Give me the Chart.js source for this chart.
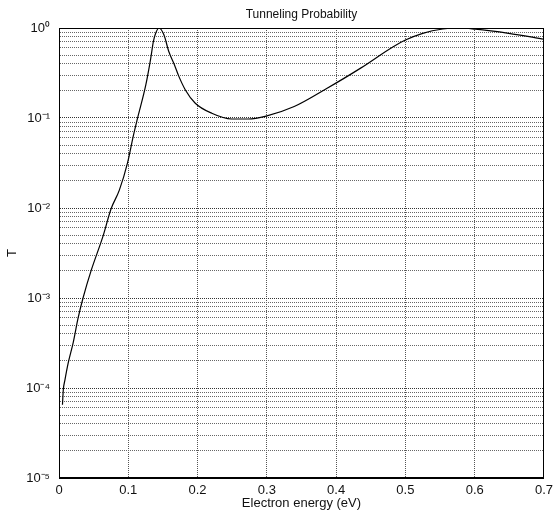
<!DOCTYPE html>
<html>
<head>
<meta charset="utf-8">
<script src="https://cdn.jsdelivr.net/npm/chart.js@4.4.1/dist/chart.umd.min.js"></script>
<style>
  body { margin: 0; background: #fff; }
  canvas { display: block; }
</style>
</head>
<body>
<canvas id="myChart" width="558" height="513"></canvas>
<script>
// values
var energy = [0.005, 0.0062, 0.0086, 0.0133, 0.0205, 0.0276, 0.0347, 0.0467, 0.0633, 0.0752,
    0.0871, 0.099, 0.1076, 0.1133, 0.1253, 0.1324, 0.1362, 0.1395, 0.1443, 0.1514,
    0.1586, 0.1657, 0.173, 0.1824, 0.1967, 0.2205, 0.249, 0.273, 0.299, 0.3395,
    0.387, 0.4348, 0.4824, 0.5, 0.525, 0.554, 0.575, 0.601, 0.649, 0.70];
var transmission = [6.5e-5, 9.5e-5, 1.23e-4, 1.9e-4, 3.2e-4, 6.0e-4, 1.0e-3, 2.05e-3, 4.8e-3, 9.8e-3,
    1.58e-2, 3.2e-2, 6.5e-2, 0.099, 0.233, 0.46, 0.705, 0.873, 1.0, 0.84,
    0.545, 0.405, 0.29, 0.205, 0.146, 0.113, 0.0975, 0.0975, 0.105, 0.134,
    0.214, 0.356, 0.62, 0.735, 0.873, 0.975, 1.0, 0.97, 0.873, 0.75];

var xTicks = [0, 0.1, 0.2, 0.3, 0.4, 0.5, 0.6, 0.7];
var decades = [1e-5, 1e-4, 1e-3, 1e-2, 1e-1, 1];
var decadeLabels = ['10\u207B\u2075', '10\u207B\u2074', '10\u207B\u00B3', '10\u207B\u00B2', '10\u207B\u00B9', '10\u2070'];

Chart.defaults.font.family = '"Liberation Sans", Arial, sans-serif';
Chart.defaults.font.size = 13;
Chart.defaults.color = '#111';

// all log ticks: 1..9 x 10^n
var yTicks = [];
for (var d = 0; d < decades.length - 1; d++) {
    for (var k = 1; k <= 9; k++) {
        yTicks.push(+(k * decades[d]).toPrecision(3));
    }
}
yTicks.push(1);

function decadeIndex(v) {
    return decades.findIndex(function (d) { return Math.abs(v - d) < d * 1e-6; });
}

var boxPlugin = {
    id: 'box',
    afterDraw: function (chart) {
        var a = chart.chartArea;
        var c = chart.ctx;
        c.save();
        c.strokeStyle = '#000';
        c.lineWidth = 1;
        c.strokeRect(Math.round(a.left) + 0.5, Math.round(a.top) + 0.5,
            Math.round(a.right - a.left) - 1, Math.round(a.bottom - a.top) - 1);
        c.restore();
    }
};

var ctx = document.getElementById('myChart');
var myChart = new Chart(ctx, {
    type: 'line',
    data: {
        datasets: [{
            data: energy.map(function (e, i) { return { x: e, y: transmission[i] }; }),
            borderColor: '#000',
            borderWidth: 1.2,
            pointRadius: 0,
            cubicInterpolationMode: 'monotone',
            fill: false
        }]
    },
    plugins: [boxPlugin],
    options: {
        responsive: false,
        animation: false,
        layout: { padding: { left: 0, right: 9, top: 0, bottom: 0 } },
        plugins: {
            legend: { display: false },
            tooltip: { enabled: false },
            title: {
                display: true,
                text: 'Tunneling Probability',
                fullSize: false,
                color: '#111',
                font: { size: 12, weight: 'normal' },
                padding: { top: 7, bottom: 6.6 }
            }
        },
        scales: {
            x: {
                type: 'linear',
                min: 0,
                max: 0.7,
                afterBuildTicks: function (scale) {
                    scale.ticks = xTicks.map(function (v) { return { value: v }; });
                },
                afterFit: function (scale) { scale.height = 35; },
                ticks: {
                    padding: 5,
                    autoSkip: false,
                    maxRotation: 0,
                    callback: function (v) { return v === 0 ? '0' : v.toFixed(1); }
                },
                grid: { color: '#555', drawTicks: false },
                border: { color: '#000', dash: [1, 1] },
                title: {
                    display: true,
                    text: 'Electron energy (eV)',
                    padding: { top: 0, bottom: 2 }
                }
            },
            y: {
                type: 'logarithmic',
                min: 1e-5,
                max: 1,
                afterBuildTicks: function (scale) {
                    scale.ticks = yTicks.map(function (v) { return { value: v }; });
                },
                afterFit: function (scale) { scale.width = 59; },
                ticks: {
                    padding: 9,
                    autoSkip: false,
                    callback: function (v) {
                        var i = decadeIndex(v);
                        return i >= 0 ? decadeLabels[i] : '';
                    }
                },
                grid: {
                    drawTicks: false,
                    color: function (c) {
                        return c.tick && decadeIndex(c.tick.value) >= 0 ? '#333' : '#666';
                    }
                },
                border: { color: '#000', dash: [1, 1] },
                title: {
                    display: true,
                    text: 'T',
                    padding: { top: 5, bottom: 0 }
                }
            }
        }
    }
});
</script>
</body>
</html>
